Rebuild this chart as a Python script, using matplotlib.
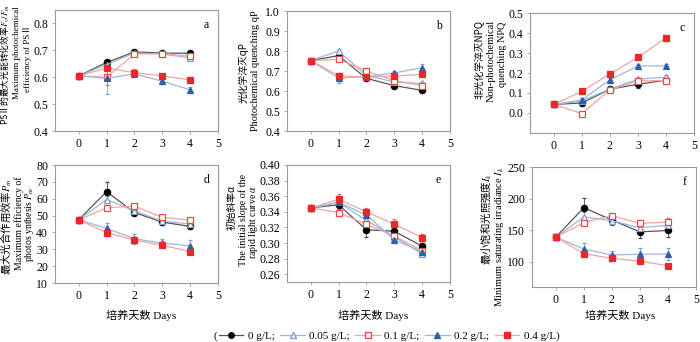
import numpy as np
import matplotlib
matplotlib.use('Agg')
import matplotlib.pyplot as plt
from matplotlib.lines import Line2D

plt.rcParams['font.family'] = ['Liberation Serif', 'Noto Sans CJK SC']
plt.rcParams['mathtext.fontset'] = 'stix'
plt.rcParams['font.size'] = 8

days = [0, 1, 2, 3, 4]
groups = ['0 g/L', '0.05 g/L', '0.1 g/L', '0.2 g/L', '0.4 g/L']

# a: Fv/Fm
fvfm = [[0.605, 0.655, 0.694, 0.690, 0.689],
        [0.605, 0.647, 0.690, 0.686, 0.672],
        [0.605, 0.600, 0.686, 0.688, 0.678],
        [0.605, 0.596, 0.612, 0.585, 0.553],
        [0.605, 0.634, 0.617, 0.605, 0.590]]
fvfm_err = [[0.005, 0.006, 0.004, 0.004, 0.004],
            [0.005, 0.010, 0.004, 0.004, 0.006],
            [0.005, 0.030, 0.004, 0.004, 0.006],
            [0.005, 0.060, 0.010, 0.010, 0.012],
            [0.005, 0.008, 0.012, 0.006, 0.005]]
# b: qP
qp = [[0.752, 0.777, 0.663, 0.627, 0.603],
      [0.752, 0.800, 0.678, 0.645, 0.638],
      [0.752, 0.758, 0.700, 0.652, 0.627],
      [0.752, 0.665, 0.672, 0.690, 0.717],
      [0.752, 0.677, 0.668, 0.675, 0.683]]
qp_err = [[0.005, 0.010, 0.008, 0.008, 0.006],
          [0.005, 0.008, 0.010, 0.010, 0.008],
          [0.005, 0.010, 0.015, 0.010, 0.008],
          [0.005, 0.025, 0.008, 0.010, 0.018],
          [0.005, 0.012, 0.008, 0.008, 0.006]]
# c: NPQ
npq = [[0.043, 0.050, 0.119, 0.144, 0.164],
       [0.043, 0.060, 0.120, 0.169, 0.179],
       [0.043, -0.003, 0.116, 0.161, 0.162],
       [0.043, 0.065, 0.166, 0.235, 0.235],
       [0.043, 0.108, 0.195, 0.278, 0.376]]
npq_err = [[0.005, 0.008, 0.015, 0.018, 0.015],
           [0.005, 0.008, 0.010, 0.010, 0.010],
           [0.005, 0.005, 0.010, 0.010, 0.015],
           [0.005, 0.008, 0.010, 0.012, 0.012],
           [0.005, 0.005, 0.006, 0.006, 0.012]]
# d: Pm
pm = [[47.5, 64.2, 51.8, 46.1, 43.6],
      [47.5, 59.5, 52.8, 46.7, 45.0],
      [47.5, 54.6, 55.6, 48.9, 47.3],
      [47.5, 42.4, 36.3, 33.6, 32.0],
      [47.5, 39.9, 35.5, 32.4, 28.6]]
pm_err = [[0.8, 5.5, 1.5, 1.5, 1.5],
          [0.8, 2.0, 1.5, 1.2, 1.5],
          [0.8, 1.0, 1.2, 1.0, 1.2],
          [0.8, 3.0, 3.0, 2.5, 3.5],
          [0.8, 0.8, 2.0, 1.2, 0.8]]
# e: alpha
alpha = [[0.345, 0.349, 0.317, 0.315, 0.296],
         [0.345, 0.352, 0.329, 0.308, 0.286],
         [0.345, 0.339, 0.324, 0.309, 0.290],
         [0.345, 0.352, 0.336, 0.304, 0.289],
         [0.345, 0.356, 0.340, 0.324, 0.307]]
alpha_err = [[0.002, 0.005, 0.009, 0.005, 0.004],
             [0.002, 0.004, 0.005, 0.004, 0.004],
             [0.002, 0.004, 0.005, 0.004, 0.004],
             [0.002, 0.004, 0.004, 0.004, 0.005],
             [0.002, 0.007, 0.005, 0.007, 0.004]]
# f: Ik
ik = [[139, 185.6, 166, 147.3, 149.5],
      [139, 171, 165, 153.7, 158],
      [139, 162, 173, 160.6, 163],
      [139, 120, 110.6, 112, 112],
      [139, 112.8, 105.3, 101, 93.6]]
ik_err = [[3, 16, 8, 9, 10],
          [3, 8, 6, 6, 6],
          [3, 3, 4, 6, 7],
          [3, 9, 6, 10, 9],
          [3, 3, 3, 2, 2]]

line_cols = ['#555555', '#9db6de', '#f4a3a3', '#9db6de', '#f4a3a3']
mk_edge = ['black', '#7d9ed2', '#e84a4a', '#2f5fa8', '#e8282a']
mk_face = ['black', 'white', 'white', '#2f5fa8', '#e8282a']
markers = ['o', '^', 's', '^', 's']
err_cols = ['#444444', '#7d9ed2', '#e86a6a', '#7d9ed2', '#e86a6a']

W, H = 700, 342
fig = plt.figure(figsize=(7, 3.42), dpi=100)

def rect(l, r, t, b):
    return [l / W, (H - b) / H, (r - l) / W, (b - t) / H]

def ftxt(x, y, s, **kw):
    # place text by pixel position (from top-left)
    return fig.text(x / W, 1 - y / H, s, **kw)

cjk = ['Noto Sans CJK SC']

panels = [
    (rect(55, 218, 10, 131), fvfm, fvfm_err, (0.4, 0.85), [0.4, 0.5, 0.6, 0.7, 0.8], '{:.1f}', 'a'),
    (rect(287, 450, 11, 131), qp, qp_err, (0.4, 1.0), [0.4, 0.5, 0.6, 0.7, 0.8, 0.9, 1.0], '{:.1f}', 'b'),
    (rect(530, 694, 13, 133), npq, npq_err, (-0.1, 0.5), [0.0, 0.1, 0.2, 0.3, 0.4, 0.5], '{:.1f}', 'c'),
    (rect(55, 218, 165, 283), pm, pm_err, (10, 80), [10, 20, 30, 40, 50, 60, 70, 80], '{:.0f}', 'd'),
    (rect(287, 450, 165, 282), alpha, alpha_err, (0.25, 0.40),
     [0.26, 0.28, 0.30, 0.32, 0.34, 0.36, 0.38, 0.40], '{:.2f}', 'e'),
    (rect(532, 696, 167, 287), ik, ik_err, (60, 250), [100, 150, 200, 250], '{:.0f}', 'f'),
]

for i, (pos, data, err, ylim, yt, fmt, letter) in enumerate(panels):
    ax = fig.add_axes(pos)
    for g in range(5):
        ax.errorbar(days, data[g], yerr=err[g], color=line_cols[g], lw=0.9,
                    marker=markers[g], ms=4.5, mec=mk_edge[g], mfc=mk_face[g], mew=0.9,
                    ecolor=err_cols[g], elinewidth=0.6, capsize=1.5, capthick=0.6)
    ax.set_xlim(-0.85, 5)
    ax.set_ylim(*ylim)
    ax.set_xticks([0, 1, 2, 3, 4, 5])
    ax.set_yticks(yt)
    ax.set_yticklabels([fmt.format(v) for v in yt])
    ax.tick_params(labelsize=8.5, length=2, width=0.5, color='#888888', pad=3)
    for s in ax.spines.values():
        s.set_color('#999999')
        s.set_linewidth(0.8)
    ax.text(0.93, 0.875, letter, transform=ax.transAxes, fontsize=8.5, ha='center', va='center')

# y-axis titles, one line at a time (Chinese line + English lines)
rot = dict(rotation=90, ha='center', va='center')
ftxt(5, 65, 'PSⅡ的最大光能转化效率$F_v/F_m$', family=cjk, fontsize=6.3, **rot)
ftxt(17, 53, 'Maximum photochemical', fontsize=6.5, **rot)
ftxt(27, 58, 'efficiency of PSⅡ', fontsize=6.5, **rot)

ftxt(243, 73, '光化学淬灭qP', family=cjk, fontsize=7, **rot)
ftxt(256, 71, 'Photochemical quenching qP', fontsize=7.5, **rot)

top = dict(rotation=90, ha='center', va='top')
ftxt(480, 20, '非光化学淬灭NPQ', family=cjk, fontsize=7, **top)
ftxt(491, 20, 'Non-photochemical', fontsize=7.5, **top)
ftxt(502, 22, 'quenching NPQ', fontsize=7.3, **top)

ftxt(6, 227, '最大光合作用效率$P_m$', family=cjk, fontsize=7.5, **rot)
ftxt(19, 223, 'Maximum efficiency of', fontsize=7, **rot)
ftxt(30, 224, 'photos ynthesis $P_m$', fontsize=7, **rot)

ftxt(232, 208, '初始斜率α', family=cjk, fontsize=7, **rot)
ftxt(243, 220, 'The initial slope of the', fontsize=7.3, **rot)
ftxt(254, 222, r'rapid light curve $\alpha$', fontsize=7, **rot)

ftxt(486, 219, '最小饱和光照强度$I_k$', family=cjk, fontsize=7.5, **rot)
ftxt(500, 237, 'Minimum saturating irradiance $I_k$', fontsize=7.5, **rot)

for xc in [141, 373, 620]:
    ftxt(xc, 315, '培养天数 Days', fontsize=8, ha='center', va='center')

handles = [Line2D([0], [0], color=line_cols[g], lw=0.9, marker=markers[g], ms=4,
                  mec=mk_edge[g], mfc=mk_face[g]) for g in range(5)]
labels = [groups[0] + ';', groups[1] + ';', groups[2] + ';', groups[3] + ';', groups[4] + ')']
fig.legend(handles, labels, loc='center left', bbox_to_anchor=(219 / W, 1 - 336 / H), ncol=5,
           frameon=False, fontsize=8, handlelength=2.2, columnspacing=0.5, handletextpad=0.4,
           borderpad=0, borderaxespad=0)
ftxt(215, 336, '(', fontsize=8, ha='center', va='center')

fig.savefig('out.png', dpi=100)
